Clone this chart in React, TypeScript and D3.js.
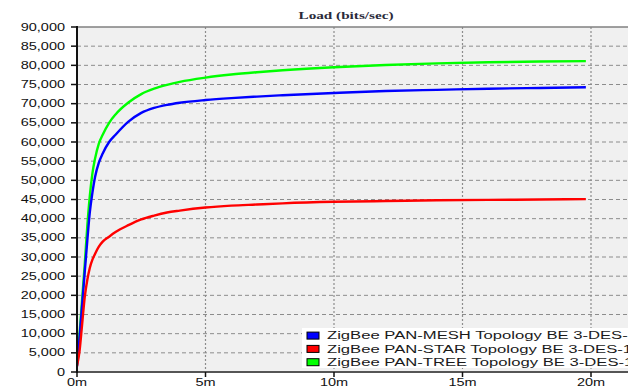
import React from "react";
import * as d3 from "d3";

// Simulation time in minutes
const times = [0, 0.1, 0.2, 0.3, 0.4, 0.5, 0.6, 0.7, 0.85, 1.0, 1.25, 1.5, 2, 2.5, 3, 3.5, 4, 5, 6, 7, 8, 10, 12, 14, 16, 18, 19.8];

// Load (bits/sec) per topology
const meshLoad = [1500, 9000, 17500, 26000, 34200, 41800, 46800, 50800, 54600, 57000, 60000, 61900, 65300, 67600, 68900, 69700, 70250, 70950, 71450, 71850, 72200, 72800, 73300, 73600, 73900, 74100, 74300];
const starLoad = [1500, 5500, 12500, 19500, 24000, 27200, 29300, 30800, 32700, 34000, 35300, 36500, 38300, 39800, 40800, 41600, 42100, 42900, 43400, 43700, 44000, 44400, 44600, 44800, 44900, 45000, 45100];
const treeLoad = [2000, 10000, 19000, 28000, 38000, 46000, 51800, 55600, 59600, 61900, 65000, 67200, 70300, 72500, 73900, 74900, 75700, 76800, 77600, 78200, 78700, 79500, 80100, 80500, 80800, 81000, 81100];

const seriesNames = [
  "ZigBee PAN-MESH Topology BE 3-DES-128",
  "ZigBee PAN-STAR Topology BE 3-DES-128",
  "ZigBee PAN-TREE Topology BE 3-DES-128",
];
const seriesColors = ["#0000ff", "#ff0000", "#00ff00"];

const yTicks = d3.range(0, 90001, 5000);
const xTicks = [0, 5, 10, 15, 20];
const xTickLabels = ["0m", "5m", "10m", "15m", "20m"];

const W = 628;
const H = 387;
const left = 77;
const top = 27;
const bottom = 372;
const SX = 1.45; // horizontal stretch of the axis glyphs
const LSX = 1.665; // horizontal stretch of the legend glyphs

export default function App() {
  const x = d3.scaleLinear().domain([0, 21.5]).range([left, left + 21.5 * 25.7]);
  const y = d3.scaleLinear().domain([0, 90000]).range([bottom, top]);
  const fmt = d3.format(",");

  const line = d3
    .line<number>()
    .x((_, i) => x(times[i]))
    .y((d) => y(d))
    .curve(d3.curveMonotoneX);

  const series = [meshLoad, starLoad, treeLoad];
  const drawOrder = [2, 0, 1];

  const font = "'Liberation Sans', Arial, sans-serif";

  return (
    <svg
      width={W}
      height={H}
      style={{ position: "absolute", left: 0, top: 0, background: "#fff" }}
    >
      <defs>
        <clipPath id="plot">
          <rect x={left} y={top} width={W - left} height={bottom - top} />
        </clipPath>
      </defs>

      {/* title */}
      <text
        transform={`translate(346,19) scale(${SX},1)`}
        textAnchor="middle"
        fontFamily="'Liberation Serif', 'Times New Roman', serif"
        fontWeight="bold"
        fontSize={10.5}
        fill="#2a2a3a"
      >
        Load (bits/sec)
      </text>

      {/* plot background */}
      <rect x={left} y={top} width={W - left} height={bottom - top} fill="#f0f0f0" />

      {/* horizontal grid */}
      {yTicks.slice(1, -1).map((t) => (
        <line
          key={`gy${t}`}
          x1={left}
          x2={W}
          y1={y(t)}
          y2={y(t)}
          stroke="#8c8c8c"
          strokeWidth={1}
          strokeDasharray="4,3"
        />
      ))}
      {/* vertical grid */}
      {xTicks.slice(1).map((t) => (
        <line
          key={`gx${t}`}
          x1={x(t)}
          x2={x(t)}
          y1={top}
          y2={bottom}
          stroke="#8c8c8c"
          strokeWidth={1.2}
          strokeDasharray="2,2"
        />
      ))}

      {/* top border */}
      <line x1={left} x2={W} y1={top} y2={top} stroke="#808080" strokeWidth={1.5} />

      {/* series */}
      <g clipPath="url(#plot)">
        {drawOrder.map((i) => (
          <path
            key={i}
            d={line(series[i]) || ""}
            fill="none"
            stroke={seriesColors[i]}
            strokeWidth={2.4}
            strokeLinejoin="round"
          />
        ))}
      </g>

      {/* legend */}
      <rect x={302} y={328} width={W - 302 + 2} height={40} fill="#ffffff" />
      {seriesNames.map((name, i) => {
        const cy = 335.6 + i * 13.3;
        return (
          <g key={name}>
            <rect
              x={307}
              y={cy - 3.5}
              width={12}
              height={7}
              fill={seriesColors[i]}
              stroke="#000"
              strokeWidth={1}
            />
            <text
              transform={`translate(327,${cy + 3.6}) scale(${LSX},1)`}
              fontFamily={font}
              fontSize={10}
              fill="#1a1a1a"
            >
              {name}
            </text>
          </g>
        );
      })}

      {/* axes */}
      <line x1={left} x2={W} y1={bottom} y2={bottom} stroke="#555" strokeWidth={2} />
      <line x1={left} x2={left} y1={top - 1} y2={bottom + 1} stroke="#111" strokeWidth={2} />

      {/* y ticks */}
      {yTicks.map((t) => (
        <g key={`yt${t}`}>
          <line x1={71} x2={left} y1={y(t)} y2={y(t)} stroke="#111" strokeWidth={1.5} />
          <text
            transform={`translate(65,${y(t) + 3.6}) scale(${SX},1)`}
            textAnchor="end"
            fontFamily={font}
            fontSize={10}
            fill="#111"
          >
            {fmt(t)}
          </text>
        </g>
      ))}

      {/* x ticks */}
      {xTicks.map((t, i) => (
        <g key={`xt${t}`}>
          <line x1={x(t)} x2={x(t)} y1={bottom} y2={bottom + 5} stroke="#111" strokeWidth={1.5} />
          <text
            transform={`translate(${x(t)},385.5) scale(${SX},1)`}
            textAnchor="middle"
            fontFamily={font}
            fontSize={10}
            fill="#111"
          >
            {xTickLabels[i]}
          </text>
        </g>
      ))}
    </svg>
  );
}
